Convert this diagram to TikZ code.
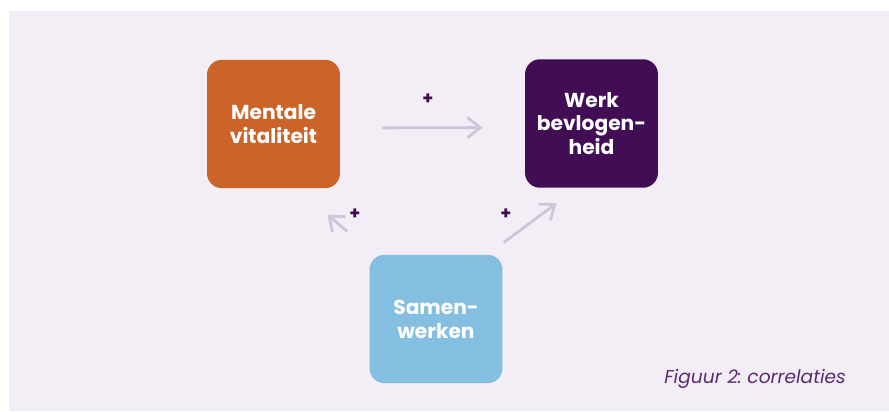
\documentclass[tikz,border=0pt]{standalone}
\usepackage{fontspec}
\setmainfont{Poppins}
\frenchspacing
\usepackage{tikz}
\usetikzlibrary{
	arrows.meta,
	calc,
	positioning,
}
\definecolor{bgpaars}{HTML}{F3EEF5}
\definecolor{oranje}{HTML}{CB6428}
\definecolor{donkerpaars}{HTML}{420D54}
\definecolor{lichtblauw}{HTML}{84BEE0}
\definecolor{pijlpaars}{HTML}{D0C4DC}
\definecolor{tekstpaars}{HTML}{5B2A75}
\tikzset{factor node/.style={
	rounded corners=0.3cm,
	inner sep=0mm,
	minimum width=2.66cm,
	minimum height=2.57cm,
	align=center,
	text=white,
	font=\fontsize{11.5}{13.6}\selectfont\bfseries,
}}
\tikzset{pijl/.style={
	pijlpaars,
	line width=1.6pt,
	-{Straight Barb[length=7.4pt,width=11.5pt,line width=1.6pt]},
}}
\tikzset{plus node/.style={
	text=donkerpaars,
	inner sep=0mm,
	font=\fontsize{10}{10}\selectfont\bfseries,
}}

\begin{document}
\begin{tikzpicture}[x=0.02cm, y=-0.02cm]
\useasboundingbox (0,0) rectangle (889,412);
\fill[bgpaars] (9,11) rectangle (889,411);

\node[factor node, fill=oranje](mv) at(273.5,124) {Mentale\\vitaliteit};
\node[factor node, fill=donkerpaars](wb) at(591.5,123.5) {Werk\\bevlogen-\\heid};
\node[factor node, fill=lichtblauw](sw) at(436,319) {Samen-\\werken};

% pijlen
\draw[pijl, shorten <=0.84cm, shorten >=0.84cm] ([yshift=-0.08cm]mv.east) -- ([yshift=-0.08cm]wb.west);

\coordinate(l1) at ($(sw.north west)+(-22,-23)$);
\coordinate(l2) at ($(mv.south east)+(-13,26)$);
\draw[pijl] (l1) -- (l2);

\coordinate(r1) at ($(sw.north east)+(1,-12)$);
\coordinate(r2) at ($(wb.south west)+(32,15)$);
\draw[pijl] (r1) -- (r2);

\node[plus node](p1) at(428,99) {+};
\node[plus node](p2) at(355,214) {+};
\node[plus node](p3) at(506,214) {+};

\node[text=tekstpaars, inner sep=0mm, anchor=base west, font=\fontsize{10.6}{12}\selectfont\itshape](fig) at(664,383) {Figuur 2: correlaties};
\end{tikzpicture}
\end{document}
